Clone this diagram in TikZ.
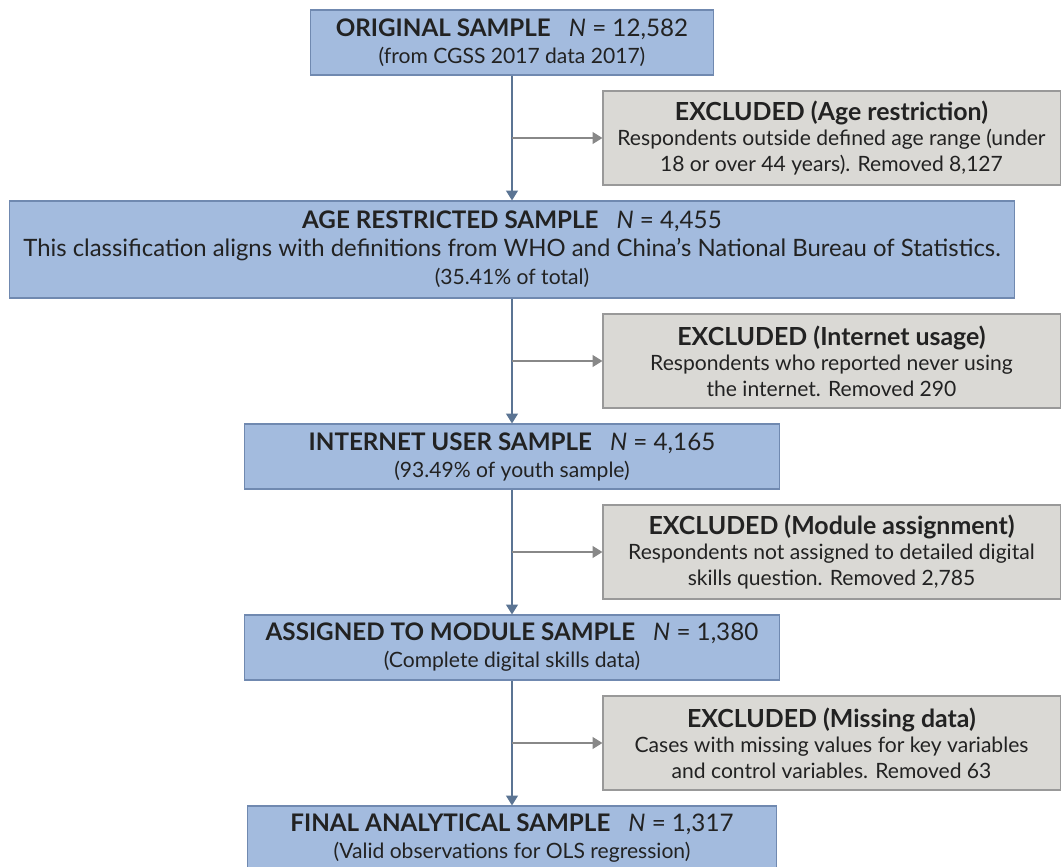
\documentclass[tikz,border=0pt]{standalone}
\usepackage{fontspec}
\setmainfont{Lato}
\usetikzlibrary{arrows.meta, positioning}
\definecolor{boxblue}{HTML}{A3BBDE}
\definecolor{edgeblue}{HTML}{7089B0}
\definecolor{boxgray}{HTML}{DAD9D5}
\definecolor{edgegray}{HTML}{999999}
\definecolor{flowline}{HTML}{5B7493}
\definecolor{sideline}{HTML}{888888}
\definecolor{inktext}{HTML}{222222}
\newcommand{\headfont}{\fontsize{17.2}{19}\selectfont\bfseries}
\newcommand{\exheadfont}{\fontsize{17.7}{19}\selectfont\bfseries}
\newcommand{\bodyfont}{\fontsize{15}{19}\selectfont}
\newcommand{\nval}[1]{\hspace{0.75em}{\mdseries\itshape N}\mdseries\ =\ #1}

\begin{document}
\begin{tikzpicture}[x=0.025cm, y=-0.025cm,
    sample/.style={draw=edgeblue, fill=boxblue, line width=0.8pt, align=center,
                   text=inktext, inner sep=0pt, minimum height=1.625cm,
                   font=\fontsize{15}{19.2}\selectfont},
    excluded/.style={draw=edgegray, fill=boxgray, line width=0.8pt, align=center,
                     text=inktext, inner sep=0pt, minimum width=11.425cm, minimum height=2.35cm,
                     font=\fontsize{15}{18.1}\selectfont},
    flow/.style={draw=flowline, line width=1pt, -{Triangle[length=7pt, width=8.5pt]}},
    side/.style={draw=sideline, line width=1pt, -{Triangle[length=7pt, width=8.5pt]}}]
  \useasboundingbox (0,0) rectangle (1061,867);

  % Samples
  \node[sample, minimum width=10.075cm] (orig) at (512,42.5)
    {{\headfont ORIGINAL SAMPLE\nval{12,582}}\\ {\bodyfont (from CGSS 2017 data 2017)}};
  \node[sample, minimum width=25.1cm, minimum height=2.425cm,
        font=\fontsize{15}{19.9}\selectfont] (agesample) at (512,249.5)
    {{\headfont AGE RESTRICTED SAMPLE\nval{4,455}}\\
     {\fontsize{17}{19}\selectfont This classification aligns with definitions from WHO and China’s National Bureau of Statistics.}\\
     {\bodyfont (35.41\% of total)}};
  \node[sample, minimum width=13.375cm] (netsample) at (512,456.5)
    {{\headfont INTERNET USER SAMPLE\nval{4,165}}\\ {\bodyfont (93.49\% of youth sample)}};
  \node[sample, minimum width=13.375cm] (modsample) at (512,647.5)
    {{\headfont ASSIGNED TO MODULE SAMPLE\nval{1,380}}\\ {\bodyfont (Complete digital skills data)}};
  \node[sample, minimum width=13.2cm] (finalsample) at (512,838.5)
    {{\headfont FINAL ANALYTICAL SAMPLE\nval{1,317}}\\ {\bodyfont (Valid observations for OLS regression)}};

  % Exclusions
  \node[excluded] (exage) at (831.5,138)
    {{\exheadfont EXCLUDED (Age restriction)}\\
     {\bodyfont Respondents outside defined age range (under}\\
     {\bodyfont 18 or over 44 years). Removed 8,127}};
  \node[excluded] (exnet) at (831.5,361)
    {{\exheadfont EXCLUDED (Internet usage)}\\
     {\bodyfont Respondents who reported never using}\\
     {\bodyfont the internet. Removed 290}};
  \node[excluded] (exmod) at (831.5,552)
    {{\exheadfont EXCLUDED (Module assignment)}\\
     {\bodyfont Respondents not assigned to detailed digital}\\
     {\bodyfont skills question. Removed 2,785}};
  \node[excluded] (exmiss) at (831.5,743)
    {{\exheadfont EXCLUDED (Missing data)}\\
     {\bodyfont Cases with missing values for key variables}\\
     {\bodyfont and control variables. Removed 63}};

  % Flow
  \draw[flow] (orig) -- (agesample);
  \draw[flow] (agesample) -- (netsample);
  \draw[flow] (netsample) -- (modsample);
  \draw[flow] (modsample) -- (finalsample);

  % Branches
  \draw[side] (orig.south |- exage.west) -- (exage.west);
  \draw[side] (agesample.south |- exnet.west) -- (exnet.west);
  \draw[side] (netsample.south |- exmod.west) -- (exmod.west);
  \draw[side] (modsample.south |- exmiss.west) -- (exmiss.west);
\end{tikzpicture}
\end{document}
